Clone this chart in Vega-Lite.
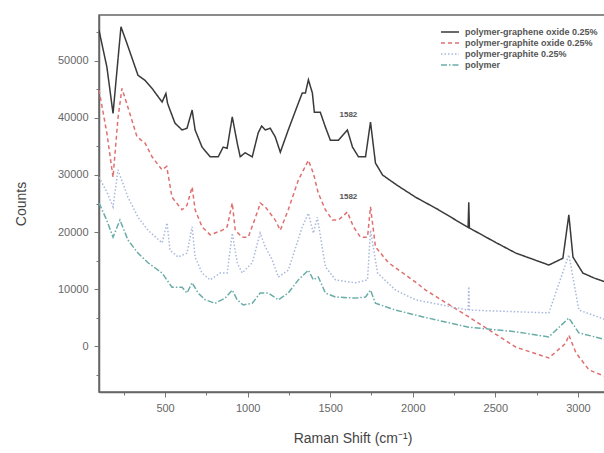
{
  "$schema": "https://vega.github.io/schema/vega-lite/v6.json",
  "width": 507,
  "height": 377,
  "autosize": {"type": "none"},
  "padding": {"left": 99, "top": 15, "right": 0, "bottom": 61},
  "background": "white",
  "config": {
    "view": {"stroke": "#666", "strokeWidth": 1.5},
    "font": "Liberation Sans"
  },
  "datasets": {
    "spectra": [
      {"s": "polymer-graphene oxide 0.25%", "x": 100, "y": 55400},
      {"s": "polymer-graphene oxide 0.25%", "x": 148, "y": 48900},
      {"s": "polymer-graphene oxide 0.25%", "x": 185, "y": 40800},
      {"s": "polymer-graphene oxide 0.25%", "x": 233, "y": 56000},
      {"s": "polymer-graphene oxide 0.25%", "x": 269, "y": 53100},
      {"s": "polymer-graphene oxide 0.25%", "x": 336, "y": 47500},
      {"s": "polymer-graphene oxide 0.25%", "x": 379, "y": 46600},
      {"s": "polymer-graphene oxide 0.25%", "x": 421, "y": 45200},
      {"s": "polymer-graphene oxide 0.25%", "x": 482, "y": 42800},
      {"s": "polymer-graphene oxide 0.25%", "x": 505, "y": 44300},
      {"s": "polymer-graphene oxide 0.25%", "x": 515, "y": 42600},
      {"s": "polymer-graphene oxide 0.25%", "x": 530, "y": 41400},
      {"s": "polymer-graphene oxide 0.25%", "x": 560, "y": 39100},
      {"s": "polymer-graphene oxide 0.25%", "x": 603, "y": 37900},
      {"s": "polymer-graphene oxide 0.25%", "x": 633, "y": 38200},
      {"s": "polymer-graphene oxide 0.25%", "x": 664, "y": 41400},
      {"s": "polymer-graphene oxide 0.25%", "x": 682, "y": 37900},
      {"s": "polymer-graphene oxide 0.25%", "x": 724, "y": 34900},
      {"s": "polymer-graphene oxide 0.25%", "x": 773, "y": 33200},
      {"s": "polymer-graphene oxide 0.25%", "x": 822, "y": 33200},
      {"s": "polymer-graphene oxide 0.25%", "x": 852, "y": 34900},
      {"s": "polymer-graphene oxide 0.25%", "x": 876, "y": 34700},
      {"s": "polymer-graphene oxide 0.25%", "x": 907, "y": 40200},
      {"s": "polymer-graphene oxide 0.25%", "x": 937, "y": 35600},
      {"s": "polymer-graphene oxide 0.25%", "x": 955, "y": 33200},
      {"s": "polymer-graphene oxide 0.25%", "x": 985, "y": 33900},
      {"s": "polymer-graphene oxide 0.25%", "x": 1028, "y": 33200},
      {"s": "polymer-graphene oxide 0.25%", "x": 1064, "y": 37400},
      {"s": "polymer-graphene oxide 0.25%", "x": 1085, "y": 38600},
      {"s": "polymer-graphene oxide 0.25%", "x": 1107, "y": 37900},
      {"s": "polymer-graphene oxide 0.25%", "x": 1137, "y": 38200},
      {"s": "polymer-graphene oxide 0.25%", "x": 1167, "y": 36700},
      {"s": "polymer-graphene oxide 0.25%", "x": 1198, "y": 34000},
      {"s": "polymer-graphene oxide 0.25%", "x": 1246, "y": 37900},
      {"s": "polymer-graphene oxide 0.25%", "x": 1307, "y": 42600},
      {"s": "polymer-graphene oxide 0.25%", "x": 1331, "y": 44400},
      {"s": "polymer-graphene oxide 0.25%", "x": 1350, "y": 44400},
      {"s": "polymer-graphene oxide 0.25%", "x": 1368, "y": 46700},
      {"s": "polymer-graphene oxide 0.25%", "x": 1392, "y": 44400},
      {"s": "polymer-graphene oxide 0.25%", "x": 1404, "y": 41000},
      {"s": "polymer-graphene oxide 0.25%", "x": 1440, "y": 41000},
      {"s": "polymer-graphene oxide 0.25%", "x": 1471, "y": 38400},
      {"s": "polymer-graphene oxide 0.25%", "x": 1501, "y": 36100},
      {"s": "polymer-graphene oxide 0.25%", "x": 1550, "y": 36100},
      {"s": "polymer-graphene oxide 0.25%", "x": 1604, "y": 37900},
      {"s": "polymer-graphene oxide 0.25%", "x": 1635, "y": 34900},
      {"s": "polymer-graphene oxide 0.25%", "x": 1671, "y": 33200},
      {"s": "polymer-graphene oxide 0.25%", "x": 1714, "y": 33200},
      {"s": "polymer-graphene oxide 0.25%", "x": 1744, "y": 39300},
      {"s": "polymer-graphene oxide 0.25%", "x": 1774, "y": 32100},
      {"s": "polymer-graphene oxide 0.25%", "x": 1817, "y": 30000},
      {"s": "polymer-graphene oxide 0.25%", "x": 1900, "y": 28300},
      {"s": "polymer-graphene oxide 0.25%", "x": 2017, "y": 26100},
      {"s": "polymer-graphene oxide 0.25%", "x": 2150, "y": 24000},
      {"s": "polymer-graphene oxide 0.25%", "x": 2335, "y": 20800},
      {"s": "polymer-graphene oxide 0.25%", "x": 2339, "y": 25200},
      {"s": "polymer-graphene oxide 0.25%", "x": 2343, "y": 20700},
      {"s": "polymer-graphene oxide 0.25%", "x": 2500, "y": 18200},
      {"s": "polymer-graphene oxide 0.25%", "x": 2624, "y": 16300},
      {"s": "polymer-graphene oxide 0.25%", "x": 2824, "y": 14200},
      {"s": "polymer-graphene oxide 0.25%", "x": 2909, "y": 15400},
      {"s": "polymer-graphene oxide 0.25%", "x": 2945, "y": 23000},
      {"s": "polymer-graphene oxide 0.25%", "x": 2970, "y": 15600},
      {"s": "polymer-graphene oxide 0.25%", "x": 3030, "y": 12800},
      {"s": "polymer-graphene oxide 0.25%", "x": 3100, "y": 11900},
      {"s": "polymer-graphene oxide 0.25%", "x": 3170, "y": 11200},

      {"s": "polymer-graphite oxide 0.25%", "x": 100, "y": 44900},
      {"s": "polymer-graphite oxide 0.25%", "x": 148, "y": 37300},
      {"s": "polymer-graphite oxide 0.25%", "x": 185, "y": 29600},
      {"s": "polymer-graphite oxide 0.25%", "x": 215, "y": 40000},
      {"s": "polymer-graphite oxide 0.25%", "x": 239, "y": 45200},
      {"s": "polymer-graphite oxide 0.25%", "x": 275, "y": 41900},
      {"s": "polymer-graphite oxide 0.25%", "x": 330, "y": 36700},
      {"s": "polymer-graphite oxide 0.25%", "x": 379, "y": 35600},
      {"s": "polymer-graphite oxide 0.25%", "x": 421, "y": 33200},
      {"s": "polymer-graphite oxide 0.25%", "x": 482, "y": 30900},
      {"s": "polymer-graphite oxide 0.25%", "x": 510, "y": 31500},
      {"s": "polymer-graphite oxide 0.25%", "x": 542, "y": 26100},
      {"s": "polymer-graphite oxide 0.25%", "x": 603, "y": 23900},
      {"s": "polymer-graphite oxide 0.25%", "x": 633, "y": 24700},
      {"s": "polymer-graphite oxide 0.25%", "x": 664, "y": 27900},
      {"s": "polymer-graphite oxide 0.25%", "x": 682, "y": 23900},
      {"s": "polymer-graphite oxide 0.25%", "x": 724, "y": 20900},
      {"s": "polymer-graphite oxide 0.25%", "x": 773, "y": 19500},
      {"s": "polymer-graphite oxide 0.25%", "x": 846, "y": 20300},
      {"s": "polymer-graphite oxide 0.25%", "x": 876, "y": 20900},
      {"s": "polymer-graphite oxide 0.25%", "x": 907, "y": 25100},
      {"s": "polymer-graphite oxide 0.25%", "x": 925, "y": 20300},
      {"s": "polymer-graphite oxide 0.25%", "x": 967, "y": 19100},
      {"s": "polymer-graphite oxide 0.25%", "x": 1004, "y": 19100},
      {"s": "polymer-graphite oxide 0.25%", "x": 1064, "y": 23900},
      {"s": "polymer-graphite oxide 0.25%", "x": 1076, "y": 25100},
      {"s": "polymer-graphite oxide 0.25%", "x": 1107, "y": 24400},
      {"s": "polymer-graphite oxide 0.25%", "x": 1167, "y": 22100},
      {"s": "polymer-graphite oxide 0.25%", "x": 1198, "y": 20300},
      {"s": "polymer-graphite oxide 0.25%", "x": 1246, "y": 23900},
      {"s": "polymer-graphite oxide 0.25%", "x": 1307, "y": 29100},
      {"s": "polymer-graphite oxide 0.25%", "x": 1368, "y": 32600},
      {"s": "polymer-graphite oxide 0.25%", "x": 1398, "y": 30300},
      {"s": "polymer-graphite oxide 0.25%", "x": 1428, "y": 26800},
      {"s": "polymer-graphite oxide 0.25%", "x": 1471, "y": 23900},
      {"s": "polymer-graphite oxide 0.25%", "x": 1513, "y": 22100},
      {"s": "polymer-graphite oxide 0.25%", "x": 1550, "y": 22100},
      {"s": "polymer-graphite oxide 0.25%", "x": 1604, "y": 23500},
      {"s": "polymer-graphite oxide 0.25%", "x": 1641, "y": 20900},
      {"s": "polymer-graphite oxide 0.25%", "x": 1683, "y": 19100},
      {"s": "polymer-graphite oxide 0.25%", "x": 1726, "y": 19100},
      {"s": "polymer-graphite oxide 0.25%", "x": 1744, "y": 24400},
      {"s": "polymer-graphite oxide 0.25%", "x": 1774, "y": 17400},
      {"s": "polymer-graphite oxide 0.25%", "x": 1853, "y": 14600},
      {"s": "polymer-graphite oxide 0.25%", "x": 2017, "y": 11200},
      {"s": "polymer-graphite oxide 0.25%", "x": 2078, "y": 9800},
      {"s": "polymer-graphite oxide 0.25%", "x": 2339, "y": 5100},
      {"s": "polymer-graphite oxide 0.25%", "x": 2624, "y": -200},
      {"s": "polymer-graphite oxide 0.25%", "x": 2824, "y": -2100},
      {"s": "polymer-graphite oxide 0.25%", "x": 2927, "y": 500},
      {"s": "polymer-graphite oxide 0.25%", "x": 2945, "y": 1900},
      {"s": "polymer-graphite oxide 0.25%", "x": 2988, "y": -1200},
      {"s": "polymer-graphite oxide 0.25%", "x": 3067, "y": -4200},
      {"s": "polymer-graphite oxide 0.25%", "x": 3170, "y": -5400},

      {"s": "polymer-graphite 0.25%", "x": 100, "y": 29600},
      {"s": "polymer-graphite 0.25%", "x": 148, "y": 27000},
      {"s": "polymer-graphite 0.25%", "x": 185, "y": 24400},
      {"s": "polymer-graphite 0.25%", "x": 215, "y": 30900},
      {"s": "polymer-graphite 0.25%", "x": 275, "y": 26100},
      {"s": "polymer-graphite 0.25%", "x": 336, "y": 22600},
      {"s": "polymer-graphite 0.25%", "x": 397, "y": 20300},
      {"s": "polymer-graphite 0.25%", "x": 482, "y": 18100},
      {"s": "polymer-graphite 0.25%", "x": 512, "y": 21600},
      {"s": "polymer-graphite 0.25%", "x": 530, "y": 16800},
      {"s": "polymer-graphite 0.25%", "x": 579, "y": 15600},
      {"s": "polymer-graphite 0.25%", "x": 633, "y": 16300},
      {"s": "polymer-graphite 0.25%", "x": 664, "y": 20900},
      {"s": "polymer-graphite 0.25%", "x": 682, "y": 15600},
      {"s": "polymer-graphite 0.25%", "x": 724, "y": 12800},
      {"s": "polymer-graphite 0.25%", "x": 773, "y": 11600},
      {"s": "polymer-graphite 0.25%", "x": 834, "y": 12800},
      {"s": "polymer-graphite 0.25%", "x": 876, "y": 12800},
      {"s": "polymer-graphite 0.25%", "x": 907, "y": 19800},
      {"s": "polymer-graphite 0.25%", "x": 937, "y": 14600},
      {"s": "polymer-graphite 0.25%", "x": 967, "y": 12800},
      {"s": "polymer-graphite 0.25%", "x": 1028, "y": 14600},
      {"s": "polymer-graphite 0.25%", "x": 1076, "y": 19800},
      {"s": "polymer-graphite 0.25%", "x": 1107, "y": 17400},
      {"s": "polymer-graphite 0.25%", "x": 1149, "y": 15100},
      {"s": "polymer-graphite 0.25%", "x": 1186, "y": 12100},
      {"s": "polymer-graphite 0.25%", "x": 1246, "y": 13300},
      {"s": "polymer-graphite 0.25%", "x": 1331, "y": 20900},
      {"s": "polymer-graphite 0.25%", "x": 1368, "y": 23300},
      {"s": "polymer-graphite 0.25%", "x": 1398, "y": 19800},
      {"s": "polymer-graphite 0.25%", "x": 1422, "y": 22600},
      {"s": "polymer-graphite 0.25%", "x": 1471, "y": 13900},
      {"s": "polymer-graphite 0.25%", "x": 1532, "y": 11600},
      {"s": "polymer-graphite 0.25%", "x": 1653, "y": 11100},
      {"s": "polymer-graphite 0.25%", "x": 1726, "y": 11600},
      {"s": "polymer-graphite 0.25%", "x": 1744, "y": 20300},
      {"s": "polymer-graphite 0.25%", "x": 1787, "y": 12800},
      {"s": "polymer-graphite 0.25%", "x": 1896, "y": 9800},
      {"s": "polymer-graphite 0.25%", "x": 2017, "y": 8100},
      {"s": "polymer-graphite 0.25%", "x": 2335, "y": 6300},
      {"s": "polymer-graphite 0.25%", "x": 2339, "y": 10400},
      {"s": "polymer-graphite 0.25%", "x": 2343, "y": 6300},
      {"s": "polymer-graphite 0.25%", "x": 2824, "y": 5800},
      {"s": "polymer-graphite 0.25%", "x": 2945, "y": 16000},
      {"s": "polymer-graphite 0.25%", "x": 3006, "y": 6300},
      {"s": "polymer-graphite 0.25%", "x": 3170, "y": 4600},

      {"s": "polymer", "x": 100, "y": 25100},
      {"s": "polymer", "x": 148, "y": 22000},
      {"s": "polymer", "x": 185, "y": 19100},
      {"s": "polymer", "x": 227, "y": 22100},
      {"s": "polymer", "x": 275, "y": 18600},
      {"s": "polymer", "x": 336, "y": 16300},
      {"s": "polymer", "x": 397, "y": 14600},
      {"s": "polymer", "x": 482, "y": 12800},
      {"s": "polymer", "x": 542, "y": 10300},
      {"s": "polymer", "x": 603, "y": 10300},
      {"s": "polymer", "x": 633, "y": 9300},
      {"s": "polymer", "x": 664, "y": 11100},
      {"s": "polymer", "x": 700, "y": 9300},
      {"s": "polymer", "x": 743, "y": 8100},
      {"s": "polymer", "x": 803, "y": 7500},
      {"s": "polymer", "x": 864, "y": 8400},
      {"s": "polymer", "x": 907, "y": 9800},
      {"s": "polymer", "x": 937, "y": 8100},
      {"s": "polymer", "x": 973, "y": 7200},
      {"s": "polymer", "x": 1028, "y": 7500},
      {"s": "polymer", "x": 1076, "y": 9300},
      {"s": "polymer", "x": 1125, "y": 9300},
      {"s": "polymer", "x": 1186, "y": 8100},
      {"s": "polymer", "x": 1246, "y": 9300},
      {"s": "polymer", "x": 1307, "y": 11600},
      {"s": "polymer", "x": 1368, "y": 13300},
      {"s": "polymer", "x": 1398, "y": 11600},
      {"s": "polymer", "x": 1428, "y": 12100},
      {"s": "polymer", "x": 1471, "y": 9300},
      {"s": "polymer", "x": 1532, "y": 8600},
      {"s": "polymer", "x": 1653, "y": 8400},
      {"s": "polymer", "x": 1714, "y": 8600},
      {"s": "polymer", "x": 1744, "y": 9800},
      {"s": "polymer", "x": 1774, "y": 7500},
      {"s": "polymer", "x": 1896, "y": 6300},
      {"s": "polymer", "x": 2078, "y": 5000},
      {"s": "polymer", "x": 2339, "y": 3300},
      {"s": "polymer", "x": 2624, "y": 2500},
      {"s": "polymer", "x": 2824, "y": 1600},
      {"s": "polymer", "x": 2945, "y": 4900},
      {"s": "polymer", "x": 3006, "y": 2300},
      {"s": "polymer", "x": 3170, "y": 1100}
    ],
    "labels": [
      {"x": 1610, "y": 40500, "t": "1582"},
      {"x": 1610, "y": 26100, "t": "1582"}
    ]
  },
  "encoding": {
    "x": {
      "field": "x", "type": "quantitative",
      "scale": {"domain": [100, 3170], "nice": false, "zero": false},
      "axis": {
        "values": [250, 500, 750, 1000, 1250, 1500, 1750, 2000, 2250, 2500, 2750, 3000],
        "labelExpr": "datum.value % 500 == 0 ? datum.label : ''",
        "format": "d",
        "labelOverlap": false,
        "tickSize": {"condition": {"test": "datum.value % 500 == 0", "value": 5}, "value": 3},
        "tickColor": "#777", "domainColor": "#666", "domainWidth": 1.5,
        "labelColor": "#666", "labelFontSize": 11, "labelPadding": 5,
        "grid": false,
        "title": "Raman Shift (cm⁻¹)", "titleFontSize": 14, "titleFontWeight": "normal",
        "titleColor": "#444", "titlePadding": 18
      }
    },
    "y": {
      "field": "y", "type": "quantitative",
      "scale": {"domain": [-8070, 58070], "nice": false, "zero": false},
      "axis": {
        "values": [-5000, 0, 5000, 10000, 15000, 20000, 25000, 30000, 35000, 40000, 45000, 50000, 55000],
        "labelExpr": "datum.value % 10000 == 0 ? datum.label : ''",
        "format": "d",
        "labelOverlap": false,
        "tickSize": {"condition": {"test": "datum.value % 10000 == 0", "value": 5}, "value": 3},
        "tickColor": "#777", "domainColor": "#666", "domainWidth": 1.5,
        "labelColor": "#666", "labelFontSize": 11, "labelPadding": 6,
        "grid": false,
        "title": "Counts", "titleFontSize": 14, "titleFontWeight": "normal",
        "titleColor": "#444", "titlePadding": 29
      }
    }
  },
  "layer": [
    {
      "data": {"name": "spectra"},
      "mark": {"type": "line", "strokeWidth": 1.5, "clip": true},
      "encoding": {
        "color": {
          "field": "s", "type": "nominal",
          "scale": {
            "domain": ["polymer-graphene oxide 0.25%", "polymer-graphite oxide 0.25%", "polymer-graphite 0.25%", "polymer"],
            "range": ["#3a3a3a", "#e07070", "#a8b8dc", "#6aaca8"]
          },
          "legend": {
            "orient": "none", "legendX": 345, "legendY": 11,
            "title": null, "symbolType": "M-1.8,0H1.8", "symbolSize": 100,
            "symbolStrokeWidth": 1.5, "labelFontSize": 9, "labelFontWeight": "bold",
            "labelColor": "#555", "rowPadding": 0, "labelOffset": 9, "padding": 0
          }
        },
        "strokeDash": {
          "field": "s", "type": "nominal",
          "scale": {
            "domain": ["polymer-graphene oxide 0.25%", "polymer-graphite oxide 0.25%", "polymer-graphite 0.25%", "polymer"],
            "range": [[1, 0], [4, 3], [1.5, 2], [6, 2, 1.5, 2]]
          },
          "legend": {
            "orient": "none", "legendX": 345, "legendY": 11,
            "title": null, "symbolType": "M-1.8,0H1.8", "symbolSize": 100,
            "symbolStrokeWidth": 1.5, "labelFontSize": 9, "labelFontWeight": "bold",
            "labelColor": "#555", "rowPadding": 0, "labelOffset": 9, "padding": 0
          }
        }
      }
    },
    {
      "data": {"name": "labels"},
      "mark": {"type": "text", "fontSize": 8, "fontWeight": "bold", "color": "#555"},
      "encoding": {
        "text": {"field": "t"}
      }
    }
  ]
}
